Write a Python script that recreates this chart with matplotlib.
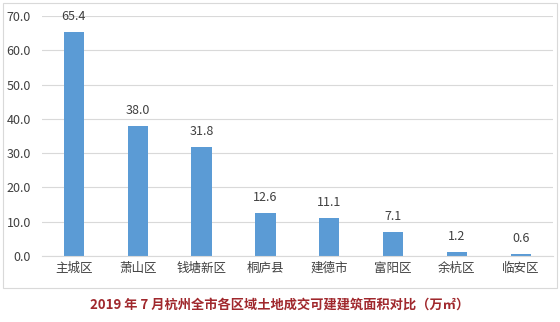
import numpy as np
import matplotlib.pyplot as plt
from matplotlib.patches import Rectangle

plt.rcParams['font.family'] = ['Noto Sans CJK SC', 'DejaVu Sans']

districts = ['主城区', '萧山区', '钱塘新区', '桐庐县', '建德市', '富阳区', '余杭区', '临安区']
areas = [65.4, 38.0, 31.8, 12.6, 11.1, 7.1, 1.2, 0.6]
yticks = [0, 10, 20, 30, 40, 50, 60, 70]
title = '2019 年 7 月杭州全市各区域土地成交可建建筑面积对比（万㎡）'

fig = plt.figure(figsize=(5.6, 3.22), dpi=100)
fig.patches.append(Rectangle((3 / 560, 1 - 288 / 322), 554 / 560, 285 / 322,
                             transform=fig.transFigure, fill=False,
                             edgecolor='#d9d9d9', linewidth=0.8))
ax = fig.add_axes([0.075, 0.205, 0.912, 0.745])

x = np.arange(len(districts))
ax.bar(x, areas, width=0.32, color='#5b9bd5', zorder=2)
for xi, v in zip(x, areas):
    ax.text(xi, v + 4.4, f'{v:.1f}', ha='center', va='center',
            fontsize=9, color='#404040')

ax.set_xlim(-0.5, len(districts) - 0.5)
ax.set_ylim(0, 70)
ax.set_yticks(yticks)
ax.set_yticklabels([f'{t:.1f}' for t in yticks])
ax.set_xticks(x)
ax.set_xticklabels(districts)
ax.grid(axis='y', color='#d9d9d9', linewidth=0.8, zorder=0)
for side in ['top', 'right', 'left']:
    ax.spines[side].set_visible(False)
ax.spines['bottom'].set_color('#d9d9d9')
ax.tick_params(axis='both', length=0, labelsize=9, colors='#404040')
ax.tick_params(axis='x', pad=4)
ax.tick_params(axis='y', pad=8)

fig.text(0.5, 1 - 305 / 322, title, ha='center', va='center',
         fontsize=9.5, fontweight='bold', color='#a0282d')

plt.savefig('out.png')
